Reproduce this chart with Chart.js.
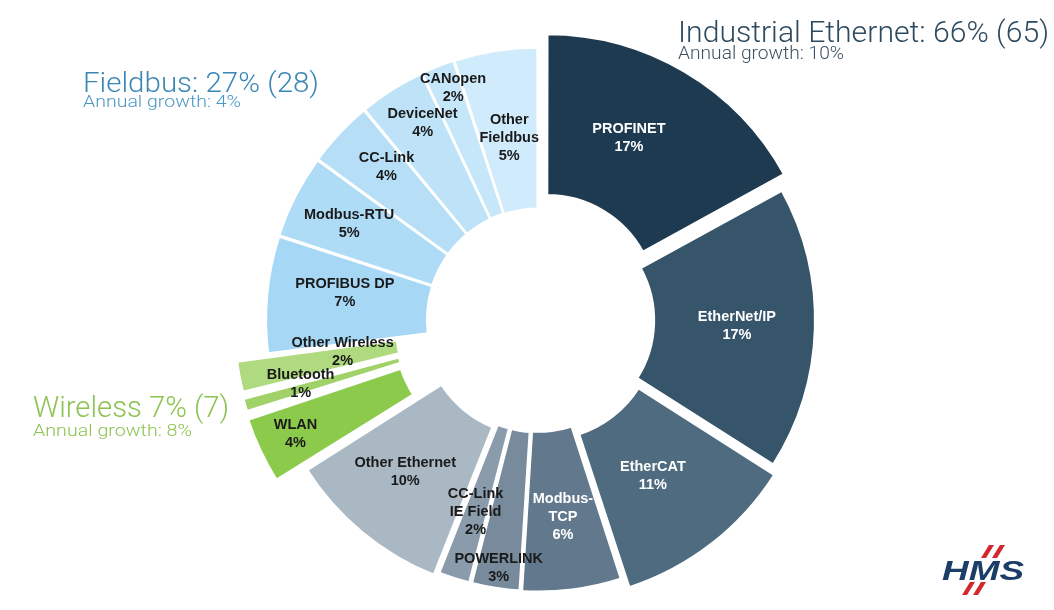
<!DOCTYPE html>
<html>
<head>
<meta charset="utf-8">
<script src="https://cdn.jsdelivr.net/npm/chart.js@4.4.1/dist/chart.umd.min.js"></script>
<style>
  html, body { margin: 0; padding: 0; background: #fff; }
  #wrap { position: relative; width: 1054px; height: 610px; }
</style>
</head>
<body>
<div id="wrap"><canvas id="chart"></canvas></div>
<script>
// ======================
// data: market share per network, clockwise from 12 o'clock
const protocols = [
  "PROFINET", "EtherNet/IP", "EtherCAT", "Modbus-TCP", "POWERLINK", "CC-Link IE Field", "Other Ethernet",
  "WLAN", "Bluetooth", "Other Wireless",
  "PROFIBUS DP", "Modbus-RTU", "CC-Link", "DeviceNet", "CANopen", "Other Fieldbus"
];
const shares = [17, 17, 11, 6, 3, 2, 10, 4, 1, 2, 7, 5, 4, 4, 2, 5];

// group headers
const groupNames  = ["Industrial Ethernet", "Fieldbus", "Wireless"];
const groupShare  = [66, 27, 7];
const groupLastYr = [65, 28, 7];
const groupGrowth = [10, 4, 8];
// ======================

// look of each slice (same order as protocols)
const sliceColors = [
  "#1d3a50", "#36546a", "#4e6b80", "#62798d", "#778b9c", "#8a9bab", "#a9b8c3",
  "#8cca4c", "#a0d269", "#b0da7f",
  "#a6d8f5", "#aedbf6", "#b6dff7", "#bee3f8", "#c6e7f9", "#d0ebfb"
];
// chart.js moves an arc by offset/4 (plus a little radial push on thin slices)
const sliceOffsets = [72, 32, 44, 10, 9, 9, 24, 88, 76, 76, 10, 10, 10, 10, 10, 10];
const sliceBorders = [2, 2, 2, 3, 4, 4, 4, 2, 2, 2, 2, 2, 2, 2, 2, 2];
const whiteText = ["PROFINET", "EtherNet/IP", "EtherCAT", "Modbus-TCP"];

// label wrapping + hand placement like the slide (r = distance from centre)
const WRAP = {
  "Modbus-TCP": ["Modbus-", "TCP"],
  "CC-Link IE Field": ["CC-Link", "IE Field"],
  "Other Fieldbus": ["Other", "Fieldbus"]
};
const LABEL_TWEAK = {
  "PROFINET": { r: 203, da: -4 },
  "EtherNet/IP": { r: 199 },
  "EtherCAT": { r: 194, da: 1.5 },
  "Modbus-TCP": { r: 199 },
  "POWERLINK": { r: 251 },
  "CC-Link IE Field": { r: 202 },
  "Other Ethernet": { r: 202, da: 1.5 },
  "WLAN": { r: 268 },
  "Bluetooth": { r: 246, da: 1 },
  "Other Wireless": { r: 198, da: 1.5 },
  "PROFIBUS DP": { r: 195, da: 2.5 },
  "Modbus-RTU": { r: 212 },
  "CC-Link": { r: 215, da: 2 },
  "DeviceNet": { r: 228, da: 2 },
  "CANopen": { r: 247, da: 1.5 },
  "Other Fieldbus": { r: 184 }
};

const segmentLabels = {
  id: "segmentLabels",
  afterDatasetsDraw(chart){
    const ctx = chart.ctx;
    const meta = chart.getDatasetMeta(0);
    ctx.save();
    ctx.font = "bold 14.5px 'Liberation Sans', Arial, sans-serif";
    ctx.textAlign = "center";
    ctx.textBaseline = "middle";
    meta.data.forEach((arc, i) => {
      const name = protocols[i];
      const p = arc.getProps(["x", "y", "startAngle", "endAngle"]);
      const t = LABEL_TWEAK[name] || {};
      const mid = (p.startAngle + p.endAngle) / 2 + (t.da || 0) * Math.PI / 180;
      const r = t.r || 190;
      const cx = p.x + Math.cos(mid) * r;
      const cy = p.y + Math.sin(mid) * r;
      const lines = (WRAP[name] || [name]).concat([shares[i] + "%"]);
      const lh = 18;
      ctx.fillStyle = whiteText.includes(name) ? "#ffffff" : "#1a1a1a";
      lines.forEach((ln, k) => {
        ctx.fillText(ln, cx, cy + (k - (lines.length - 1) / 2) * lh);
      });
    });
    ctx.restore();
  }
};

// squeeze text horizontally to the slide's width
function fitText(ctx, txt, x, y, w, size, color){
  ctx.save();
  ctx.font = `300 ${size}px Roboto, sans-serif`;
  const m = ctx.measureText(txt).width;
  ctx.translate(x, y);
  ctx.scale(w / m, 1);
  ctx.fillStyle = color;
  ctx.textAlign = "left";
  ctx.textBaseline = "alphabetic";
  ctx.fillText(txt, 0, 0);
  ctx.restore();
}

const annotations = {
  id: "annotations",
  afterDraw(chart){
    const ctx = chart.ctx;
    // group titles
    fitText(ctx, `${groupNames[0]}: ${groupShare[0]}% (${groupLastYr[0]})`, 678, 42, 371, 30, "#2d4a5f");
    fitText(ctx, `Annual growth: ${groupGrowth[0]}%`, 678, 59, 166, 18, "#3d5163");
    fitText(ctx, `${groupNames[1]}: ${groupShare[1]}% (${groupLastYr[1]})`, 83, 92, 236, 28, "#3a87b5");
    fitText(ctx, `Annual growth: ${groupGrowth[1]}%`, 83, 107, 158, 16.5, "#4b97c3");
    fitText(ctx, `${groupNames[2]} ${groupShare[2]}% (${groupLastYr[2]})`, 33, 417, 196, 29, "#8dc353");
    fitText(ctx, `Annual growth: ${groupGrowth[2]}%`, 33, 436, 159, 17, "#8dc353");

    // HMS logo
    ctx.save();
    ctx.fillStyle = "#d3262d";
    const bar = (x, y) => {
      ctx.beginPath();
      ctx.moveTo(x + 8, y);
      ctx.lineTo(x + 13, y);
      ctx.lineTo(x + 5, y + 13);
      ctx.lineTo(x, y + 13);
      ctx.closePath();
      ctx.fill();
    };
    bar(981, 545); bar(992, 545);
    bar(962, 582); bar(973, 582);
    ctx.restore();
    ctx.save();
    ctx.font = "italic bold 30px 'Liberation Sans', Arial, sans-serif";
    const m = ctx.measureText("HMS").width;
    ctx.translate(942, 580);
    ctx.scale(82 / m, 0.95);
    ctx.fillStyle = "#1c3d68";
    ctx.fillText("HMS", 0, 0);
    ctx.restore();
  }
};

new Chart(document.getElementById("chart"), {
  type: "doughnut",
  data: {
    labels: protocols,
    datasets: [{
      data: shares,
      backgroundColor: sliceColors,
      borderColor: "#ffffff",
      borderWidth: sliceBorders,
      offset: sliceOffsets,
      clip: false
    }]
  },
  options: {
    responsive: true,
    maintainAspectRatio: false,
    animation: false,
    radius: 268,
    cutout: "40%",
    layout: { padding: { left: 22, top: 30, right: 0, bottom: 0 } },
    plugins: {
      legend: { display: false },
      tooltip: { enabled: false }
    }
  },
  plugins: [segmentLabels, annotations]
});
</script>
</body>
</html>
